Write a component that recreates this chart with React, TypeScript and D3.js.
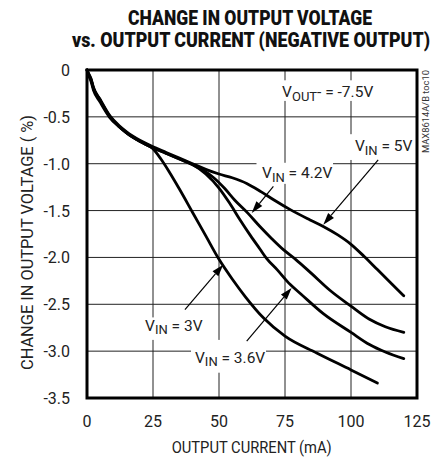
import React from 'react';
import * as d3 from 'd3';

// ---- data ----
const xTicks = [0, 25, 50, 75, 100, 125];
const xTickLabels = ['0', '25', '50', '75', '100', '125'];
const yTicks = [0, -0.5, -1, -1.5, -2, -2.5, -3, -3.5];
const yTickLabels = ['0', '-0.5', '-1.0', '-1.5', '-2.0', '-2.5', '-3.0', '-3.5'];

const current3V = [0, 0.5, 1.5, 2.5, 4.9, 8.7, 12, 15, 20, 25, 28, 31, 35, 40, 45, 50, 55, 60, 67, 75, 87, 100, 110];
const delta3V = [0, -0.05, -0.12, -0.22, -0.34, -0.51, -0.6, -0.67, -0.76, -0.84, -0.95, -1.08, -1.27, -1.52, -1.77, -2.02, -2.23, -2.42, -2.65, -2.84, -3.02, -3.2, -3.34];

const current36V = [0, 0.5, 1.5, 2.5, 4.9, 8.7, 12, 15, 20, 25, 30, 35, 40, 45, 50, 54, 58, 62, 65.5, 68, 72, 77, 81, 89.5, 100, 107, 113, 120];
const delta36V = [0, -0.04, -0.1, -0.2, -0.32, -0.5, -0.6, -0.67, -0.76, -0.83, -0.89, -0.95, -1.01, -1.11, -1.26, -1.42, -1.6, -1.77, -1.91, -2.01, -2.13, -2.29, -2.39, -2.6, -2.8, -2.93, -3.01, -3.08];

const current42V = [0, 0.5, 1.5, 2.5, 4.9, 8.7, 12, 15, 20, 25, 30, 35, 40, 44, 48, 52, 56, 61, 65.5, 70, 74.5, 79, 85, 92, 100, 107, 113, 120];
const delta42V = [0, -0.04, -0.1, -0.2, -0.32, -0.5, -0.6, -0.67, -0.76, -0.83, -0.89, -0.95, -1.01, -1.07, -1.15, -1.26, -1.39, -1.53, -1.67, -1.8, -1.92, -2.02, -2.17, -2.35, -2.52, -2.66, -2.74, -2.8];

const current5V = [0, 0.5, 1.5, 2.5, 4.9, 8.7, 12, 15, 20, 25, 30, 35, 40, 45, 50, 55, 60.5, 66, 71, 77, 84.5, 89.5, 95, 100, 105, 110, 115, 120];
const delta5V = [0, -0.03, -0.09, -0.19, -0.31, -0.49, -0.59, -0.66, -0.75, -0.82, -0.88, -0.94, -1.0, -1.06, -1.11, -1.15, -1.21, -1.3, -1.39, -1.49, -1.6, -1.67, -1.76, -1.86, -1.99, -2.13, -2.27, -2.41];

const seriesCurrents = [current3V, current36V, current42V, current5V];
const seriesDeltas = [delta3V, delta36V, delta42V, delta5V];
const seriesValues = ['3V', '3.6V', '4.2V', '5V'];

// annotation anchor points in data units [x, y]
const labelPos = [[22, -2.78], [40.9, -3.123], [66.3, -1.153], [101.5, -0.868]];
const arrowFrom = [[37.1, -2.556], [60.5, -2.893], [70.6, -1.243], [110.3, -0.96]];
const arrowTo = [[51.6, -2.077], [77.5, -2.325], [62.4, -1.526], [89.5, -1.65]];
// label background boxes [x0, y1(top), x1, y0(bottom)] in data units
const labelBox = [[20.5, -2.64, 42.8, -2.88], [39.4, -2.88, 67.8, -3.23], [64.2, -0.99, 93.2, -1.215], [99.6, -0.685, 120.4, -0.96]];

const voutPos = [73.9, -0.293];
const voutBox = [71.7, -0.11, 109.9, -0.33];

const FONT = "'Liberation Sans Narrow', 'Arial Narrow', 'Roboto', sans-serif";

export default function App() {
  const W = 435, H = 460;
  const x = d3.scaleLinear().domain([0, 125]).range([87, 417]);
  const y = d3.scaleLinear().domain([-3.5, 0]).range([398, 70]);
  const line = d3.line<[number, number]>()
    .x(d => x(d[0]))
    .y(d => y(d[1]))
    .curve(d3.curveMonotoneX);

  const arrow = (i: number) => {
    const [fx, fy] = [x(arrowFrom[i][0]), y(arrowFrom[i][1])];
    const [tx, ty] = [x(arrowTo[i][0]), y(arrowTo[i][1])];
    const dx = tx - fx, dy = ty - fy;
    const len = Math.hypot(dx, dy);
    const ux = dx / len, uy = dy / len;
    const hl = 12, hw = 3.8;
    const bx = tx - ux * hl, by = ty - uy * hl;
    const px = -uy, py = ux;
    return (
      <g key={'a' + i}>
        <line x1={fx} y1={fy} x2={bx} y2={by} stroke="#000" strokeWidth={1.2} />
        <polygon points={`${tx},${ty} ${bx + px * hw},${by + py * hw} ${bx - px * hw},${by - py * hw}`} fill="#000" />
      </g>
    );
  };

  return (
    <svg width={W} height={H} style={{ position: 'absolute', left: 0, top: 0 }}>
      <rect width={W} height={H} fill="#fff" />
      {/* title */}
      <g transform="translate(250,25) scale(1,1.2)">
        <text x={0} y={0} textAnchor="middle" fontFamily={FONT} fontWeight={900} fontSize={16.5}
          textLength={244} lengthAdjust="spacingAndGlyphs" fill="#111">CHANGE IN OUTPUT VOLTAGE</text>
      </g>
      <g transform="translate(251,46.5) scale(1,1.2)">
        <text x={0} y={0} textAnchor="middle" fontFamily={FONT} fontWeight={900} fontSize={16.5}
          textLength={358} lengthAdjust="spacingAndGlyphs" fill="#111">vs. OUTPUT CURRENT (NEGATIVE OUTPUT)</text>
      </g>

      {/* grid */}
      {xTicks.slice(1, -1).map(t => (
        <line key={'gx' + t} x1={x(t)} x2={x(t)} y1={y(0)} y2={y(-3.5)} stroke="#222" strokeWidth={1} />
      ))}
      {yTicks.slice(1, -1).map(t => (
        <line key={'gy' + t} x1={x(0)} x2={x(125)} y1={y(t)} y2={y(t)} stroke="#222" strokeWidth={1} />
      ))}

      {/* label backgrounds */}
      {labelBox.map((b, i) => (
        <rect key={'lb' + i} x={x(b[0])} y={y(b[1])} width={x(b[2]) - x(b[0])} height={y(b[3]) - y(b[1])} fill="#fff" />
      ))}
      <rect x={x(voutBox[0])} y={y(voutBox[1])} width={x(voutBox[2]) - x(voutBox[0])} height={y(voutBox[3]) - y(voutBox[1])} fill="#fff" />

      {/* curves */}
      {seriesCurrents.map((cs, i) => (
        <path key={'s' + i} d={line(cs.map((c, j) => [c, seriesDeltas[i][j]] as [number, number])) || ''}
          fill="none" stroke="#000" strokeWidth={2.8} strokeLinejoin="round" strokeLinecap="round" />
      ))}

      {/* frame */}
      <rect x={x(0)} y={y(0)} width={x(125) - x(0)} height={y(-3.5) - y(0)} fill="none" stroke="#000" strokeWidth={3} />

      {/* arrows */}
      {seriesValues.map((_, i) => arrow(i))}

      {/* series labels */}
      {seriesValues.map((v, i) => (
        <text key={'l' + i} x={x(labelPos[i][0])} y={y(labelPos[i][1])} fontFamily={FONT} fontSize={15.5} fill="#222">
          V<tspan dy={3.5} fontSize={13}>IN</tspan><tspan dy={-3.5}>{` = ${v}`}</tspan>
        </text>
      ))}
      <text x={x(voutPos[0])} y={y(voutPos[1])} fontFamily={FONT} fontSize={15.5} fill="#222">
        V<tspan dy={3.5} fontSize={13}>OUT</tspan><tspan dy={-3.5}>- = -7.5V</tspan>
      </text>

      {/* ticks */}
      {yTicks.map((t, i) => (
        <text key={'yt' + t} x={70} y={y(t) + 6} textAnchor="end" fontFamily={FONT} fontSize={16} fill="#222">{yTickLabels[i]}</text>
      ))}
      {xTicks.map((t, i) => (
        <text key={'xt' + t} x={x(t)} y={427} textAnchor="middle" fontFamily={FONT} fontSize={16} fill="#222">{xTickLabels[i]}</text>
      ))}

      {/* axis titles */}
      <text x={251.7} y={453} textAnchor="middle" fontFamily={FONT} fontSize={16} fill="#222"
        textLength={160} lengthAdjust="spacingAndGlyphs">OUTPUT CURRENT (mA)</text>
      <text transform="translate(32.5,242.5) rotate(-90)" textAnchor="middle" fontFamily={FONT} fontSize={16} fill="#222"
        textLength={255} lengthAdjust="spacingAndGlyphs">CHANGE IN OUTPUT VOLTAGE ( %)</text>
      <text transform="translate(428.5,153) rotate(-90)" fontFamily={FONT} fontSize={9} fill="#333"
        textLength={83} lengthAdjust="spacingAndGlyphs">MAX8614A/B toc10</text>
    </svg>
  );
}
